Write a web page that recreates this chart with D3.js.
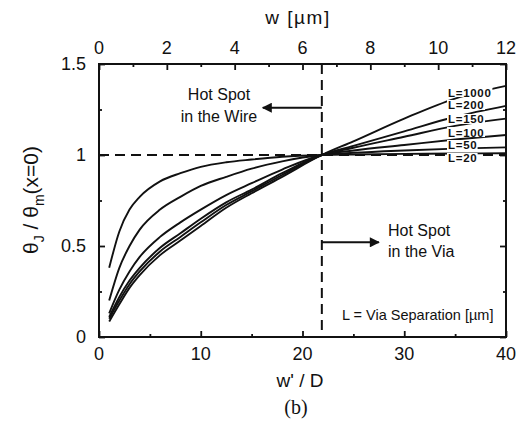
<!DOCTYPE html>
<html>
<head>
<meta charset="utf-8">
<script src="https://cdn.jsdelivr.net/npm/d3@7"></script>
<style>
  body { margin: 0; background: #fff; }
  text { font-family: "Liberation Sans", Arial, sans-serif; fill: #111; }
</style>
</head>
<body>
<div id="chart"></div>
<script>
// w/D sample points (same for every curve)
var xs = [1, 2, 3, 4, 6, 8, 10, 12.5, 15, 18, 21.9, 25, 30, 35, 40];

// theta_J / theta_m(x=0), one array per via separation L
var L20   = [0.38, 0.58, 0.70, 0.77, 0.855, 0.90, 0.935, 0.96, 0.975, 0.99, 1.0, 1.003, 1.006, 1.008, 1.01];
var L50   = [0.20, 0.38, 0.50, 0.59, 0.70, 0.77, 0.83, 0.88, 0.925, 0.965, 1.0, 1.012, 1.025, 1.035, 1.042];
var L100  = [0.13, 0.26, 0.36, 0.44, 0.55, 0.63, 0.70, 0.78, 0.845, 0.92, 1.0, 1.025, 1.055, 1.085, 1.11];
var L150  = [0.11, 0.22, 0.31, 0.38, 0.49, 0.57, 0.65, 0.74, 0.81, 0.90, 1.0, 1.04, 1.10, 1.16, 1.20];
var L200  = [0.10, 0.20, 0.29, 0.36, 0.47, 0.55, 0.63, 0.725, 0.80, 0.89, 1.0, 1.05, 1.13, 1.21, 1.27];
var L1000 = [0.085, 0.18, 0.27, 0.34, 0.45, 0.53, 0.61, 0.71, 0.79, 0.88, 1.0, 1.075, 1.20, 1.31, 1.38];

var seriesNames = ["L=1000", "L=200", "L=150", "L=100", "L=50", "L=20"];
var seriesVals = [L1000, L200, L150, L100, L50, L20];
var labelVals = [1.346, 1.275, 1.198, 1.126, 1.055, 0.984];

var bottomTicks = [0, 10, 20, 30, 40];
var topTicks = [0, 2, 4, 6, 8, 10, 12];
var leftTicks = [0, 0.5, 1, 1.5];
var leftLabels = ["0", "0.5", "1", "1.5"];
var crossX = 21.9;

var svgWidth = 520, svgHeight = 424;
var margin = { top: 64, right: 14, bottom: 87, left: 99 };
var width = svgWidth - margin.left - margin.right;
var height = svgHeight - margin.top - margin.bottom;

var svg = d3.select("#chart").append("svg")
  .attr("width", svgWidth)
  .attr("height", svgHeight);

var g = svg.append("g")
  .attr("transform", `translate(${margin.left}, ${margin.top})`);

var x = d3.scaleLinear().domain([0, 40]).range([0, width]);
var xTop = d3.scaleLinear().domain([0, 12]).range([0, width]);
var y = d3.scaleLinear().domain([0, 1.5]).range([height, 0]);

// ticks point inward
function tickAxis(axis, scale, major, minor, transform) {
  var ga = g.append("g").attr("transform", transform);
  ga.call(axis(scale).tickValues(minor).tickSize(-3).tickFormat(""));
  ga.append("g").call(axis(scale).tickValues(major).tickSize(-6).tickFormat(""));
  ga.selectAll(".domain").remove();
  ga.selectAll("line").attr("stroke", "#111").attr("stroke-width", 1.8);
  return ga;
}
tickAxis(d3.axisBottom, x, bottomTicks, d3.range(5, 40, 10), `translate(0,${height})`);
tickAxis(d3.axisTop, xTop, topTicks, d3.range(1, 12, 2), "translate(0,0)");
tickAxis(d3.axisLeft, y, leftTicks, [0.25, 0.75, 1.25], "translate(0,0)");
tickAxis(d3.axisRight, y, leftTicks, [0.25, 0.75, 1.25], `translate(${width},0)`);

g.append("rect")
  .attr("width", width).attr("height", height)
  .attr("fill", "none").attr("stroke", "#111").attr("stroke-width", 2);

// tick labels
g.selectAll(".bl").data(bottomTicks).enter().append("text")
  .attr("x", d => x(d)).attr("y", height + 23)
  .attr("text-anchor", "middle").attr("font-size", 18).text(d => d);
g.selectAll(".tl").data(topTicks).enter().append("text")
  .attr("x", d => xTop(d)).attr("y", -10)
  .attr("text-anchor", "middle").attr("font-size", 18).text(d => d);
g.selectAll(".ll").data(leftTicks).enter().append("text")
  .attr("x", -13).attr("y", d => y(d) + 6)
  .attr("text-anchor", "end").attr("font-size", 18).text((d, i) => leftLabels[i]);

// axis titles
svg.append("text").attr("x", 298).attr("y", 24)
  .attr("text-anchor", "middle").attr("font-size", 19)
  .style("letter-spacing", "1.5px").text("w [\u00b5m]");
svg.append("text").attr("x", 300).attr("y", 387)
  .attr("text-anchor", "middle").attr("font-size", 19).text("w' / D");
svg.append("text").attr("x", 296).attr("y", 414)
  .attr("text-anchor", "middle").attr("font-size", 20)
  .style("font-family", "'Liberation Serif', serif").text("(b)");

var yt = svg.append("text")
  .attr("transform", "translate(38,200) rotate(-90)")
  .attr("text-anchor", "middle").attr("font-size", 21);
yt.append("tspan").text("\u03b8");
yt.append("tspan").attr("font-size", 14).attr("dy", 6).text("J");
yt.append("tspan").attr("dy", -6).text(" / \u03b8");
yt.append("tspan").attr("font-size", 14).attr("dy", 6).text("m");
yt.append("tspan").attr("dy", -6).text("(x=0)");

// dashed reference lines
g.append("line")
  .attr("x1", 0).attr("x2", width).attr("y1", y(1)).attr("y2", y(1))
  .attr("stroke", "#111").attr("stroke-width", 2).attr("stroke-dasharray", "10,6");
g.append("line")
  .attr("x1", x(crossX)).attr("x2", x(crossX)).attr("y1", 0).attr("y2", height)
  .attr("stroke", "#111").attr("stroke-width", 2).attr("stroke-dasharray", "10,6");

// curves
var line = d3.line()
  .x((d, i) => x(xs[i]))
  .y(d => y(d))
  .curve(d3.curveMonotoneX);

g.selectAll(".curve").data(seriesVals).enter().append("path")
  .attr("d", d => line(d))
  .attr("fill", "none").attr("stroke", "#111").attr("stroke-width", 1.9);

// series labels with white backing
var lab = g.selectAll(".lab").data(seriesNames).enter().append("g")
  .attr("transform", (d, i) => `translate(${x(34.3)},${y(labelVals[i])})`);
lab.append("rect")
  .attr("x", -1).attr("y", -5).attr("height", 10)
  .attr("width", d => d.length * 7.4 + 1).attr("fill", "#fff");
lab.append("text")
  .attr("y", 4.5).attr("font-size", 11.5).attr("font-weight", "bold")
  .style("letter-spacing", "0.7px")
  .text(d => d);

// annotations
var defs = svg.append("defs");
defs.append("marker").attr("id", "ah")
  .attr("viewBox", "0 0 10 10").attr("refX", 9).attr("refY", 5)
  .attr("markerWidth", 6.5).attr("markerHeight", 5).attr("orient", "auto")
  .attr("markerUnits", "strokeWidth")
  .append("path").attr("d", "M0,0 L10,5 L0,10 z").attr("fill", "#111");

g.append("line")
  .attr("x1", x(crossX)).attr("x2", x(crossX) - 59)
  .attr("y1", y(1.26)).attr("y2", y(1.26))
  .attr("stroke", "#111").attr("stroke-width", 2).attr("marker-end", "url(#ah)");
g.append("line")
  .attr("x1", x(crossX)).attr("x2", x(crossX) + 57)
  .attr("y1", y(0.52)).attr("y2", y(0.52))
  .attr("stroke", "#111").attr("stroke-width", 2).attr("marker-end", "url(#ah)");

svg.append("text").attr("x", 219).attr("y", 100)
  .attr("text-anchor", "middle").attr("font-size", 16).text("Hot Spot");
svg.append("text").attr("x", 219).attr("y", 122)
  .attr("text-anchor", "middle").attr("font-size", 16).text("in the Wire");
svg.append("text").attr("x", 388).attr("y", 236)
  .attr("font-size", 16).text("Hot Spot");
svg.append("text").attr("x", 388).attr("y", 257)
  .attr("font-size", 16).text("in the Via");
svg.append("text").attr("x", 342).attr("y", 320)
  .attr("font-size", 14.5).text("L = Via Separation [\u00b5m]");
</script>
</body>
</html>
